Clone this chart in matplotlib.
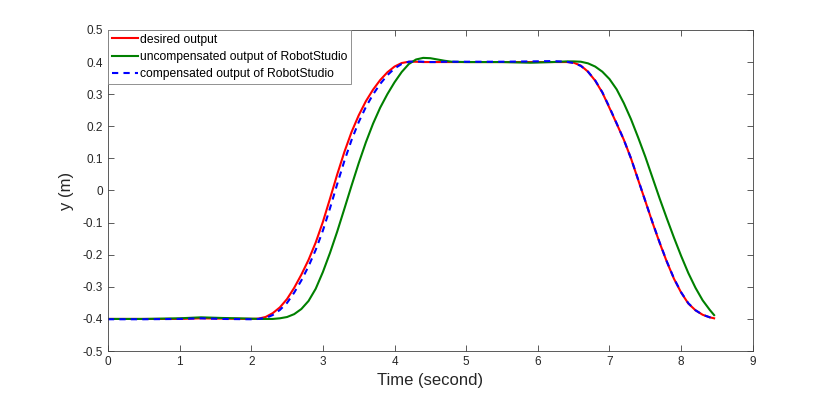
import matplotlib
matplotlib.use('Agg')
import matplotlib.pyplot as plt

plt.rcParams['font.family'] = ['Liberation Sans', 'DejaVu Sans']

# time (s)
t = [0, 0.5, 1.0, 1.3, 1.6, 2.0,
     2.1, 2.2, 2.3, 2.4, 2.5, 2.6, 2.7, 2.8, 2.9, 3.0, 3.1, 3.2, 3.3, 3.4,
     3.5, 3.6, 3.7, 3.8, 3.9, 4.0, 4.1, 4.2, 4.3, 4.4, 4.5, 4.6, 4.7, 4.8,
     5.0, 5.5, 5.9,
     6.2, 6.3, 6.4, 6.5, 6.6, 6.7, 6.8, 6.9, 7.0, 7.1, 7.2, 7.3, 7.4, 7.5,
     7.6, 7.7, 7.8, 7.9, 8.0, 8.1, 8.2, 8.3, 8.4, 8.46]

desired = [-0.400, -0.400, -0.400, -0.398, -0.399, -0.400,
           -0.399, -0.394, -0.382, -0.364, -0.338, -0.303, -0.262, -0.216, -0.162, -0.098, -0.025, 0.050, 0.120, 0.182,
           0.234, 0.278, 0.314, 0.344, 0.368, 0.386, 0.397, 0.401, 0.401, 0.400, 0.400, 0.400, 0.400, 0.400,
           0.400, 0.400, 0.400,
           0.400, 0.400, 0.400, 0.398, 0.389, 0.370, 0.342, 0.305, 0.257, 0.208, 0.158, 0.100, 0.033, -0.033,
           -0.100, -0.163, -0.222, -0.275, -0.318, -0.352, -0.373, -0.387, -0.395, -0.398]

uncomp = [-0.400, -0.400, -0.398, -0.395, -0.397, -0.399,
          -0.400, -0.400, -0.400, -0.398, -0.394, -0.385, -0.369, -0.344, -0.306, -0.254, -0.194, -0.128, -0.057, 0.015,
          0.085, 0.150, 0.208, 0.258, 0.300, 0.337, 0.369, 0.394, 0.408, 0.413, 0.412, 0.408, 0.404, 0.401,
          0.400, 0.400, 0.398,
          0.400, 0.401, 0.402, 0.402, 0.401, 0.396, 0.386, 0.370, 0.347, 0.315, 0.272, 0.222, 0.165, 0.105,
          0.040, -0.025, -0.087, -0.147, -0.204, -0.257, -0.303, -0.342, -0.372, -0.388]

comp = [-0.401, -0.401, -0.400, -0.398, -0.400, -0.401,
        -0.400, -0.397, -0.388, -0.372, -0.350, -0.318, -0.280, -0.236, -0.185, -0.125, -0.055, 0.020, 0.092, 0.157,
        0.213, 0.260, 0.299, 0.332, 0.359, 0.380, 0.394, 0.401, 0.402, 0.401, 0.400, 0.400, 0.401, 0.401,
        0.401, 0.401, 0.402,
        0.403, 0.402, 0.401, 0.397, 0.388, 0.370, 0.343, 0.306, 0.259, 0.209, 0.158, 0.100, 0.034, -0.033,
        -0.099, -0.162, -0.221, -0.274, -0.317, -0.351, -0.373, -0.387, -0.395, -0.398]

fig = plt.figure(figsize=(8.3, 3.94), dpi=100)
ax = fig.add_axes([0.130, 0.109, 0.777, 0.815])

ax.plot(t, desired, color='#ff0000', lw=1.5, label='desired output')
ax.plot(t, uncomp, color='#008000', lw=1.5, label='uncompensated output of RobotStudio')
ax.plot(t, comp, color='#0000ff', lw=1.5, ls=(0, (3, 2.5)), label='compensated output of RobotStudio')

ax.set_xlim(0, 9)
ax.set_ylim(-0.5, 0.5)
ax.set_xticks(range(0, 10))
ax.set_yticks([-0.5, -0.4, -0.3, -0.2, -0.1, 0, 0.1, 0.2, 0.3, 0.4, 0.5])
ax.set_yticklabels(['-0.5', '-0.4', '-0.3', '-0.2', '-0.1', '0', '0.1', '0.2', '0.3', '0.4', '0.5'])
ax.tick_params(direction='in', top=True, right=True, labelsize=8.5, length=4,
               color='#404040', labelcolor='#262626', width=0.6)
for s in ax.spines.values():
    s.set_color('#404040')
    s.set_linewidth(0.6)

ax.set_xlabel('Time (second)', fontsize=12, color='#262626', labelpad=4)
ax.set_ylabel('y (m)', fontsize=12, color='#262626', labelpad=6)

leg = ax.legend(loc='upper left', fontsize=8.7, handlelength=2.2, handletextpad=0.15,
                borderaxespad=0, fancybox=False, framealpha=1, borderpad=0.3,
                labelspacing=0.45, edgecolor='#808080')
leg.get_frame().set_linewidth(0.6)

plt.savefig('out.png')
